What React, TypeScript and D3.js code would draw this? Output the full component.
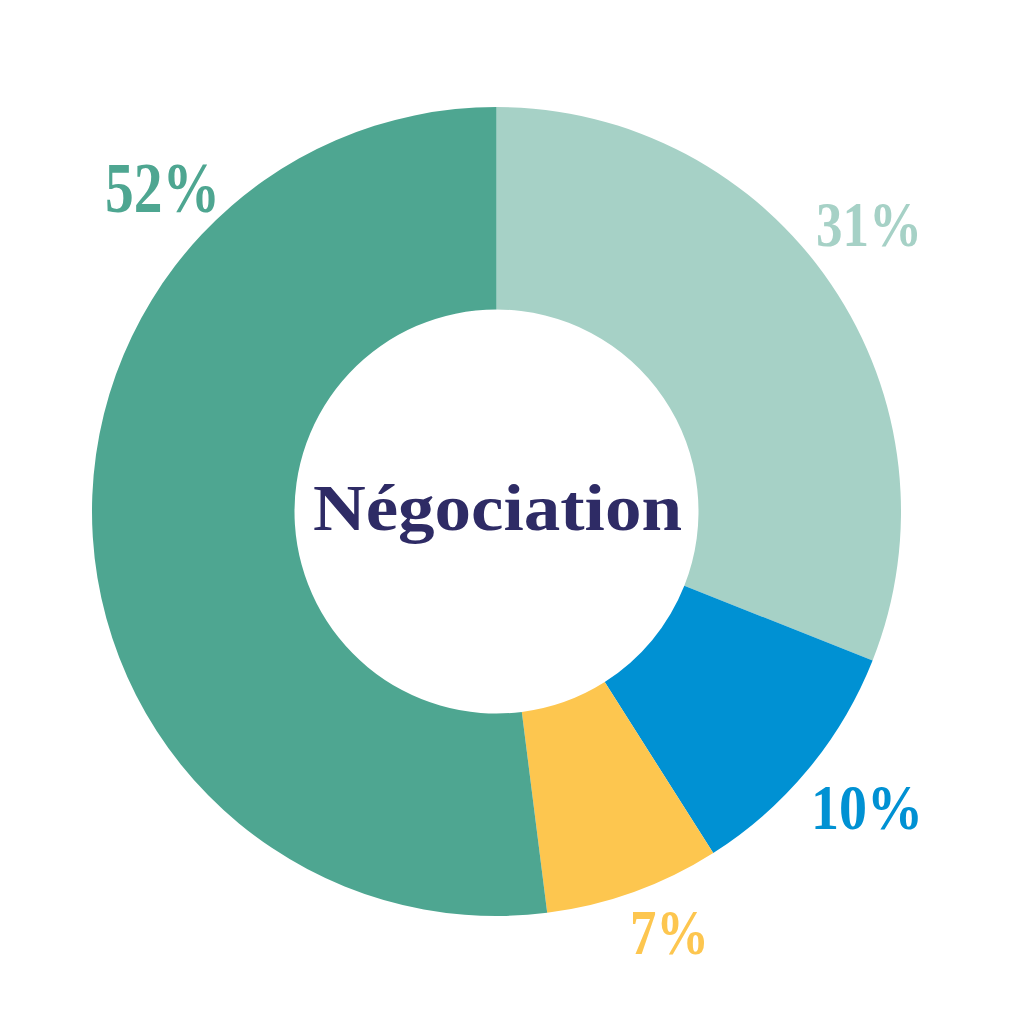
import { useEffect, useRef } from "react";
import * as d3 from "d3";

const categories = ["A", "B", "C", "D"];
const shares = [31, 10, 7, 52];
const labels = ["31%", "10%", "7%", "52%"];
const colors = ["#a6d1c6", "#0091d3", "#fdc64f", "#4ea691"];
const centerTitle = "Négociation";

// where each percentage label sits (x, baseline, width, font size)
const labelLayout = [
  { x: 816, y: 246, w: 106, size: 64 },
  { x: 811, y: 829, w: 112, size: 64 },
  { x: 630, y: 954, w: 79, size: 64 },
  { x: 105, y: 212, w: 115, size: 72 },
];

const App = () => {
  const svgRef = useRef<SVGSVGElement | null>(null);

  useEffect(() => {
    document.body.style.margin = "0";
    const svg = d3.select(svgRef.current);
    svg.selectAll("*").remove();

    const width = 1024;
    const height = 1024;
    const cx = 496.5;
    const cy = 511.5;
    const outer = 404.5;
    const inner = 202;

    svg.attr("width", width).attr("height", height);
    svg.append("rect").attr("width", width).attr("height", height).attr("fill", "#ffffff");

    const pie = d3.pie<number>().sort(null).value(d => d);
    const arc = d3.arc<d3.PieArcDatum<number>>().innerRadius(inner).outerRadius(outer);

    const g = svg.append("g").attr("transform", `translate(${cx},${cy})`);

    g.selectAll("path")
      .data(pie(shares))
      .enter()
      .append("path")
      .attr("d", arc)
      .attr("fill", (_, i) => colors[i])
      .append("title")
      .text((d, i) => `${categories[i]}: ${d.data}%`);

    // Pourcentages
    svg.selectAll("text.label")
      .data(labels)
      .enter()
      .append("text")
      .attr("class", "label")
      .attr("x", (_, i) => labelLayout[i].x)
      .attr("y", (_, i) => labelLayout[i].y)
      .attr("textLength", (_, i) => labelLayout[i].w)
      .attr("lengthAdjust", "spacingAndGlyphs")
      .attr("font-family", "'Liberation Serif', 'DejaVu Serif', serif")
      .attr("font-weight", "bold")
      .attr("font-size", (_, i) => `${labelLayout[i].size}px`)
      .attr("fill", (_, i) => colors[i])
      .text(d => d);

    svg.append("text")
      .attr("x", 313)
      .attr("y", 530)
      .attr("textLength", 369)
      .attr("lengthAdjust", "spacingAndGlyphs")
      .attr("font-family", "'Liberation Serif', 'DejaVu Serif', serif")
      .attr("font-weight", "bold")
      .attr("font-size", "66px")
      .attr("fill", "#2e2b65")
      .text(centerTitle);
  }, []);

  return <svg ref={svgRef} style={{ display: "block" }}></svg>;
};

export default App;
